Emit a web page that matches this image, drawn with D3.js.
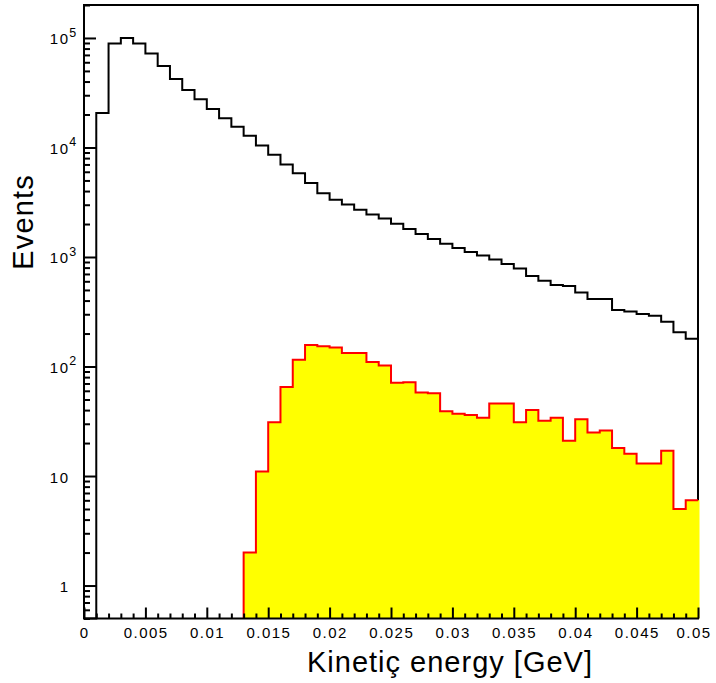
<!DOCTYPE html>
<html><head><meta charset="utf-8">
<script src="https://cdn.jsdelivr.net/npm/d3@7"></script>
<style>body{margin:0;background:#fff}svg{display:block}</style>
</head><body>
<script>
// Histogram definition
const binLow = 0, binHigh = 0.05, nBins = 50;
// All events (black outline), one value per bin
const allEvents = [0, 20600, 89000, 100000, 89000, 72000, 55600, 42300, 33500, 27600,
  22500, 18500, 15500, 12800, 10400, 8600, 6980, 5820, 4750, 3830,
  3330, 3010, 2700, 2440, 2250, 2010, 1800, 1620, 1460, 1320,
  1210, 1110, 1030, 950, 862, 786, 670, 607, 554, 543,
  474, 413, 413, 328, 318, 301, 291, 256, 205, 179];
// Selected events (yellow fill, red outline)
const selectedEvents = [0, 0, 0, 0, 0, 0, 0, 0, 0, 0,
  0, 0, 0, 2, 11, 31, 65, 115, 157, 153,
  149, 133, 133, 110, 102, 71, 72, 58, 57, 39,
  37, 36, 34, 46, 46, 31, 40, 32, 34, 21,
  33, 25, 26, 18, 16, 13, 13, 17, 5, 6];
const xTickValues = [0, 0.005, 0.01, 0.015, 0.02, 0.025, 0.03, 0.035, 0.04, 0.045, 0.05];
const xTickLabels = ["0", "0.005", "0.01", "0.015", "0.02", "0.025", "0.03", "0.035", "0.04", "0.045", "0.05"];
const yMajorValues = [1, 10, 100, 1000, 10000, 100000];
const yLabelBase = ["1", "10", "10", "10", "10", "10"];
const yLabelExp = ["", "", "2", "3", "4", "5"];
const yDomain = [0.5, 2e5];
const xTitle = "Kinetiç energy [GeV]";
const yTitle = "Events";

const W = 716, H = 683;
const L = 84, R = 698, T = 5, B = 618.5;
const FONT = "'Liberation Sans', Arial, Helvetica, sans-serif";

const svg = d3.select("body").append("svg").attr("width", W).attr("height", H);
svg.append("rect").attr("width", W).attr("height", H).attr("fill", "#fff");

const x = d3.scaleLinear().domain([binLow, binHigh]).range([L, R]);
const y = d3.scaleLog().domain(yDomain).range([B, T]);
const bw = (binHigh - binLow) / nBins;
const yv = v => v > yDomain[0] ? y(v) : B;

// frame (top + right)
svg.append("path").attr("d", `M${L},${T}H${R}V${B}`)
  .attr("fill", "none").attr("stroke", "#000").attr("stroke-width", 2);

const line = d3.line();

// black histogram
const bPts = [[x(binLow), B]];
allEvents.forEach((v, i) => {
  bPts.push([x(binLow + i * bw), yv(v)]);
  bPts.push([x(binLow + (i + 1) * bw), yv(v)]);
});
svg.append("path").attr("d", line(bPts)).attr("fill", "none")
  .attr("stroke", "#000").attr("stroke-width", 2).attr("stroke-linejoin", "miter");

// selected histogram
const first = selectedEvents.findIndex(v => v > 0);
const rPts = [[x(binLow + first * bw), B]];
for (let i = first; i < nBins; i++) {
  rPts.push([x(binLow + i * bw), yv(selectedEvents[i])]);
  rPts.push([x(binLow + (i + 1) * bw), yv(selectedEvents[i])]);
}
const fillPts = rPts.concat([[x(binHigh) + 1.5, rPts[rPts.length - 1][1]], [x(binHigh) + 1.5, B]]);
svg.append("path").attr("d", line(fillPts) + "Z").attr("fill", "#ffff00").attr("stroke", "none");
svg.append("path").attr("d", line(rPts)).attr("fill", "none")
  .attr("stroke", "#ff0000").attr("stroke-width", 2);

// Y axis (ticks inside, pointing right)
const yMinor = y.ticks().filter(v => !yMajorValues.some(m => Math.abs(m - v) < 1e-9));
const yMinorAxis = d3.axisRight(y).tickValues(yMinor).tickSize(6).tickFormat("");
const yMajorAxis = d3.axisRight(y).tickValues(yMajorValues).tickSize(12).tickFormat("");
[yMinorAxis, yMajorAxis].forEach(ax => {
  const g = svg.append("g").attr("transform", `translate(${L},0)`).call(ax);
  g.select(".domain").remove();
  g.selectAll("line").attr("stroke", "#000").attr("stroke-width", 2);
});

// X axis (ticks pointing up)
const xMinor = d3.range(0, nBins + 1).map(i => binLow + i * bw)
  .filter(v => !xTickValues.some(m => Math.abs(m - v) < 1e-9));
const xMinorAxis = d3.axisTop(x).tickValues(xMinor).tickSize(5).tickFormat("");
const xMajorAxis = d3.axisTop(x).tickValues(xTickValues).tickSize(11).tickFormat("");
[xMinorAxis, xMajorAxis].forEach(ax => {
  const g = svg.append("g").attr("transform", `translate(0,${B})`).call(ax);
  g.select(".domain").remove();
  g.selectAll("line").attr("stroke", "#000").attr("stroke-width", 2);
});

// axis lines
svg.append("path").attr("d", `M${L},${T - 1}V${B}H${R + 1}`)
  .attr("fill", "none").attr("stroke", "#000").attr("stroke-width", 2);

// x tick labels
svg.append("g").selectAll("text").data(xTickValues).join("text")
  .attr("x", (d, i) => x(d) + (i === xTickValues.length - 1 ? -4 : 0.75))
  .attr("y", 638.3)
  .attr("text-anchor", "middle")
  .attr("font-family", FONT).attr("font-size", 15).attr("letter-spacing", 1.5)
  .attr("fill", "#000")
  .text((d, i) => xTickLabels[i]);

// y tick labels
yMajorValues.forEach((v, i) => {
  const ty = y(v) + 6.5;
  svg.append("text").attr("x", 69.5).attr("y", ty).attr("text-anchor", "end")
    .attr("font-family", FONT).attr("font-size", 15).attr("letter-spacing", 1.5)
    .attr("fill", "#000").text(yLabelBase[i]);
  if (yLabelExp[i]) {
    svg.append("text").attr("x", 69.3).attr("y", ty - 7.7)
      .attr("font-family", FONT).attr("font-size", 12.5)
      .attr("fill", "#000").text(yLabelExp[i]);
  }
});

// titles
svg.append("text").attr("x", 593).attr("y", 672.3).attr("text-anchor", "end")
  .attr("font-family", FONT).attr("font-size", 29).attr("letter-spacing", 1)
  .attr("fill", "#000").text(xTitle);
svg.append("text").attr("transform", "translate(32.5,174) rotate(-90)")
  .attr("text-anchor", "end")
  .attr("font-family", FONT).attr("font-size", 29).attr("letter-spacing", 1.2)
  .attr("fill", "#000").text(yTitle);
</script>
</body></html>
